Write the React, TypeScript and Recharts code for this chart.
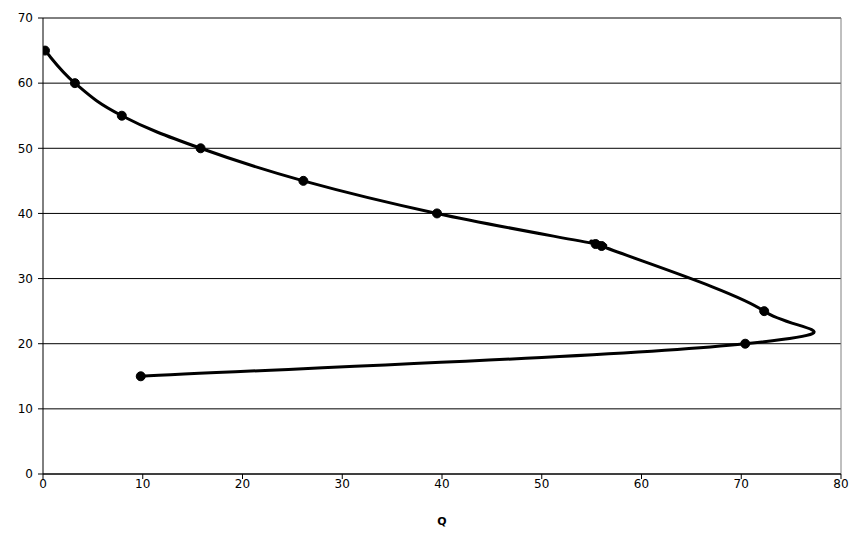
import { CartesianGrid, Label, Line, LineChart, ReferenceLine, XAxis, YAxis } from "recharts"

const qValues = [0.2, 3.2, 7.9, 15.8, 26.1, 39.5, 55.4, 56.0, 72.3, 70.4, 9.8]
const pValues = [65, 60, 55, 50, 45, 40, 35.3, 35, 25, 20, 15]
const xTicks = [0, 10, 20, 30, 40, 50, 60, 70, 80]
const yTicks = [0, 10, 20, 30, 40, 50, 60, 70]

const data = qValues.map((q, i) => ({ q, p: pValues[i] }))

// Excel-like smoothed line (bezier through every point)
const K = 0.2

// eslint-disable-next-line @typescript-eslint/no-explicit-any
function smoothCurve(context: any) {
  let pts: [number, number][] = []
  return {
    areaStart() {},
    areaEnd() {},
    lineStart() {
      pts = []
    },
    point(x: number, y: number) {
      pts.push([+x, +y])
    },
    lineEnd() {
      if (!pts.length) return
      context.moveTo(pts[0][0], pts[0][1])
      for (let i = 0; i < pts.length - 1; i++) {
        const p0 = pts[i - 1] || pts[i]
        const p1 = pts[i]
        const p2 = pts[i + 1]
        const p3 = pts[i + 2] || p2
        context.bezierCurveTo(
          p1[0] + (p2[0] - p0[0]) * K,
          p1[1] + (p2[1] - p0[1]) * K,
          p2[0] - (p3[0] - p1[0]) * K,
          p2[1] - (p3[1] - p1[1]) * K,
          p2[0],
          p2[1]
        )
      }
    },
  }
}

const tickStyle = { fontFamily: "DejaVu Sans", fontSize: 12, fill: "#000" }

export default function App() {
  return (
    <div style={{ position: "absolute", left: 0, top: 0, background: "#fff" }}>
      <LineChart
        width={866}
        height={548}
        data={data}
        margin={{ top: 18, right: 25, bottom: 14, left: 0 }}
      >
        <CartesianGrid horizontal vertical={false} stroke="#000" strokeWidth={1} />
        <XAxis
          type="number"
          dataKey="q"
          domain={[0, 80]}
          ticks={xTicks}
          allowDataOverflow
          height={60}
          stroke="#000"
          tickSize={5}
          tickMargin={0}
          tick={tickStyle}
        >
          <Label
            value="Q"
            position="insideBottom"
            offset={9}
            style={{ fontFamily: "DejaVu Sans", fontWeight: "bold", fontSize: 11, fill: "#000" }}
          />
        </XAxis>
        <YAxis
          type="number"
          dataKey="p"
          domain={[0, 70]}
          ticks={yTicks}
          width={43}
          stroke="#000"
          tickSize={5}
          tickMargin={5}
          tick={tickStyle}
        />
        <ReferenceLine x={80} stroke="#808080" strokeWidth={1} />
        <Line
          dataKey="p"
          type={smoothCurve as never}
          stroke="#000"
          strokeWidth={3}
          dot={{ r: 4.5, fill: "#000", stroke: "#000", strokeWidth: 1 }}
          activeDot={false}
          isAnimationActive={false}
        />
      </LineChart>
    </div>
  )
}
